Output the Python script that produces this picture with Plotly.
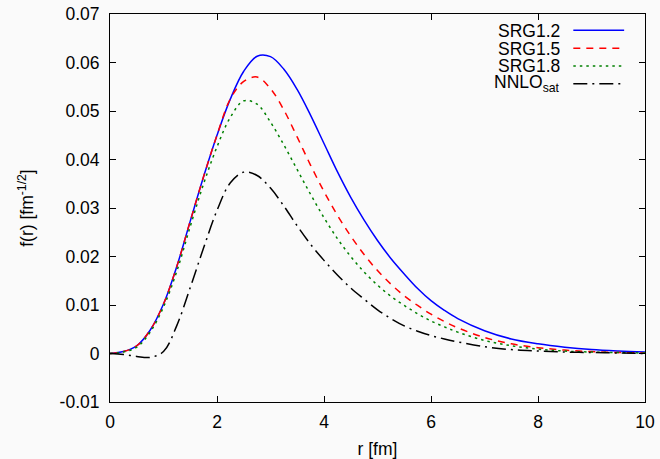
import plotly.graph_objects as go

r = [0, 0.25, 0.5, 0.75, 1.0, 1.25, 1.5, 1.75, 2.0, 2.25, 2.5, 2.75, 3.0, 3.25, 3.5, 3.75,
     4.0, 4.25, 4.5, 4.75, 5.0, 5.25, 5.5, 5.75, 6.0, 6.25, 6.5, 7.0, 7.5, 8.0, 8.5, 9.0, 9.5, 10.0]

srg12 = [0, 0.0004, 0.0016, 0.0048, 0.0102, 0.0180, 0.0273, 0.0365, 0.0450, 0.0525, 0.0582,
         0.0613, 0.0612, 0.0586, 0.0544, 0.0491, 0.0433, 0.0375, 0.0322, 0.0275, 0.0233,
         0.0196, 0.0164, 0.0134, 0.0109, 0.0089, 0.0072, 0.0047, 0.0030, 0.0020, 0.0013,
         0.0008, 0.0005, 0.0003]
srg15 = [0, 0.0004, 0.0016, 0.0048, 0.0102, 0.0180, 0.0273, 0.0365, 0.0450, 0.0525, 0.0561,
         0.0570, 0.0546, 0.0502, 0.0446, 0.0388, 0.0334, 0.0285, 0.0242, 0.0204, 0.0171,
         0.0143, 0.0119, 0.0099, 0.0081, 0.0066, 0.0053, 0.0033, 0.0020, 0.0012, 0.0007,
         0.0004, 0.0002, 0.0001]
srg18 = [0, 0.0003, 0.0013, 0.0044, 0.0096, 0.0170, 0.0262, 0.0350, 0.0426, 0.0487, 0.0521,
         0.0514, 0.0477, 0.0430, 0.0379, 0.0328, 0.0280, 0.0237, 0.0200, 0.0168, 0.0141,
         0.0118, 0.0099, 0.0082, 0.0067, 0.0055, 0.0044, 0.0027, 0.0016, 0.0009, 0.0005,
         0.0003, 0.0002, 0.0001]
nnlo = [0, -0.0002, -0.0006, -0.0008, 0.0004, 0.0058, 0.0136, 0.0218, 0.0295, 0.0352, 0.0374,
        0.0367, 0.0341, 0.0304, 0.0263, 0.0225, 0.0192, 0.0162, 0.0135, 0.0112, 0.0090,
        0.0072, 0.0057, 0.0046, 0.0037, 0.0030, 0.0024, 0.0014, 0.0008, 0.0005, 0.0003,
        0.0002, 0.0001, 0.0]

names = ["SRG1.2", "SRG1.5", "SRG1.8", "NNLO<sub>sat</sub>"]
colors = ["#0000ff", "#ff0000", "#008000", "#000000"]
dashes = ["solid", "7px,6px", "2.5px,4px", "14px,5px,2px,5px"]
series = [srg12, srg15, srg18, nnlo]

x_ticks = [0, 2, 4, 6, 8, 10]
y_ticks = [-0.01, 0, 0.01, 0.02, 0.03, 0.04, 0.05, 0.06, 0.07]
y_tick_text = ["-0.01", "0", "0.01", "0.02", "0.03", "0.04", "0.05", "0.06", "0.07"]

FONT = "Liberation Sans, Arial, sans-serif"
FS = 17.5
BG = "#fafafa"

fig = go.Figure()
for name, ys, c, d in zip(names, series, colors, dashes):
    fig.add_trace(go.Scatter(x=r, y=ys, mode="lines", name=name, showlegend=False,
                             line=dict(color=c, width=1.5, dash=d, shape="spline", smoothing=1.0)))

# gnuplot-style key: text right-aligned, sample line to its right
key_y = [0.958, 0.912, 0.866, 0.82]
for i, (name, c, d) in enumerate(zip(names, colors, dashes)):
    fig.add_annotation(xref="paper", yref="paper", x=0.843, y=key_y[i], text=name,
                       showarrow=False, xanchor="right", yanchor="middle",
                       height=17, valign="middle", borderpad=0,
                       font=dict(family=FONT, size=FS, color="black"))
    fig.add_shape(type="line", xref="paper", yref="paper", x0=0.866, x1=0.961,
                  y0=key_y[i], y1=key_y[i], line=dict(color=c, width=1.5, dash=d))

axis_common = dict(showline=True, linecolor="black", linewidth=1, mirror="ticks",
                   ticks="inside", ticklen=6, tickcolor="black", showgrid=False,
                   zeroline=False, tickfont=dict(family=FONT, size=FS, color="black"))

fig.update_layout(
    width=660, height=459,
    margin=dict(l=110, r=15, t=14, b=57),
    paper_bgcolor=BG, plot_bgcolor=BG,
    font=dict(family=FONT, size=FS, color="black"),
    xaxis=dict(range=[0, 10], tickvals=x_ticks, ticktext=[str(t) for t in x_ticks],
               title=dict(text="r [fm]", standoff=11, font=dict(family=FONT, size=FS)),
               ticklabelstandoff=4, automargin=False, **axis_common),
    yaxis=dict(range=[-0.01, 0.07], tickvals=y_ticks, ticktext=y_tick_text,
               title=dict(text="f(r) [fm<sup>-1/2</sup>]", standoff=21, font=dict(family=FONT, size=FS)),
               ticklabelstandoff=6, automargin=False, **axis_common),
)

fig.write_html("out.html")
